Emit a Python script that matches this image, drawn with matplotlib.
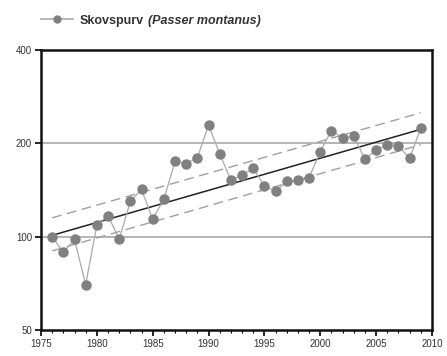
import numpy as np
import matplotlib.pyplot as plt
from matplotlib.ticker import FixedLocator, MultipleLocator, NullLocator, FixedFormatter
from matplotlib.lines import Line2D

plt.rcParams["font.family"] = ["Liberation Sans", "DejaVu Sans"]

# Indeks for skovspurv
years = np.arange(1976, 2010)
index = [100, 89, 98, 70, 109, 117, 98, 130, 142, 114,
         132, 175, 172, 180, 229, 185, 152, 158, 166, 146,
         140, 151, 152, 155, 188, 220, 208, 211, 178, 190,
         198, 196, 179, 224]

# Trendlinje med konfidensgrænser (endepunkter)
trend_years = [1976, 2009]
trend = [101, 222]
upper = [115, 251]
lower = [90, 198]

y_ticks = [50, 100, 200, 400]
x_ticks = [1975, 1980, 1985, 1990, 1995, 2000, 2005, 2010]

fig = plt.figure(figsize=(4.47, 3.56), dpi=100)
ax = fig.add_axes([0.0917, 0.073, 0.8747, 0.7865])

ax.set_yscale("log")
ax.set_ylim(50, 400)
ax.set_xlim(1975, 2010)

for v in [100, 200]:
    ax.axhline(v, color="#b4b4b4", lw=1.4, zorder=1)

ax.plot(trend_years, upper, color="#a0a0a0", lw=1.0, ls=(0, (7, 4)), zorder=2)
ax.plot(trend_years, lower, color="#a0a0a0", lw=1.0, ls=(0, (7, 4)), zorder=2)
ax.plot(trend_years, trend, color="#222222", lw=1.1, zorder=3)

ax.plot(years, index, color="#aaaaaa", lw=0.9, marker="o", ms=6.5,
        mfc="#808080", mec="#808080", zorder=4)

ax.yaxis.set_major_locator(FixedLocator(y_ticks))
ax.yaxis.set_major_formatter(FixedFormatter([str(v) for v in y_ticks]))
ax.yaxis.set_minor_locator(NullLocator())
ax.xaxis.set_major_locator(FixedLocator(x_ticks))
ax.xaxis.set_minor_locator(MultipleLocator(1))

ax.tick_params(axis="both", which="major", length=4, width=1.2,
               labelsize=7, labelcolor="#333333", pad=2.5)
ax.tick_params(axis="x", which="minor", length=2.5, width=0.8)

for spine in ax.spines.values():
    spine.set_linewidth(1.8)
    spine.set_color("#111111")

# Legende øverst til venstre
handle = Line2D([], [], color="#aaaaaa", lw=1.2, marker="o", ms=5,
                mfc="#808080", mec="#808080")
leg = fig.legend(handles=[handle], labels=["Skovspurv"], loc="center left",
                 bbox_to_anchor=(0.066, 0.942), frameon=False,
                 handlelength=2.6, handletextpad=0.55,
                 prop={"weight": "bold", "size": 9})
leg.get_texts()[0].set_color("#333333")
fig.canvas.draw()
ax.annotate("(Passer montanus)", xy=(1, 0), xycoords=leg.get_texts()[0],
            xytext=(3, 0), textcoords="offset points", va="bottom",
            fontsize=9, fontweight="bold", fontstyle="italic",
            color="#333333", annotation_clip=False)

plt.savefig("out.png", dpi=100, facecolor="white")
plt.close()
